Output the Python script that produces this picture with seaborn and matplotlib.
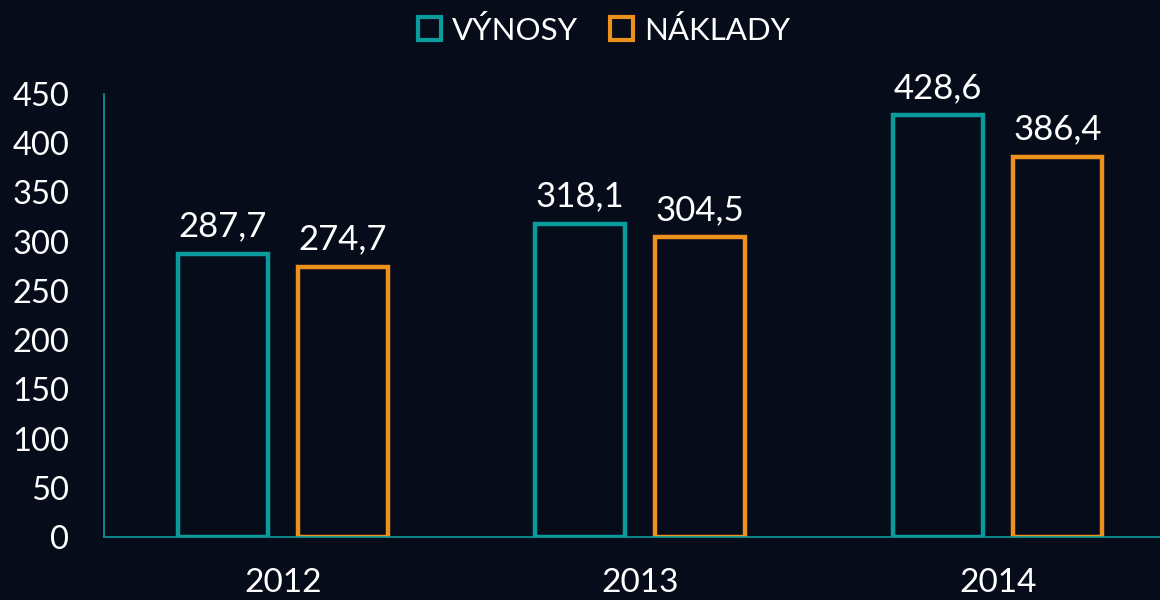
import pandas as pd
import numpy as np
import seaborn as sns
import matplotlib.pyplot as plt
from matplotlib.patches import Patch

# data
years = ["2012", "2013", "2014"]
vynosy = [287.7, 318.1, 428.6]
naklady = [274.7, 304.5, 386.4]
series_names = ["VÝNOSY", "NÁKLADY"]

bg = "#070c1b"
teal = "#0a9c9c"
orange = "#ec911b"

df = pd.DataFrame({
    "rok": years * 2,
    "hodnota": vynosy + naklady,
    "serie": [series_names[0]] * 3 + [series_names[1]] * 3,
})

sns.set_style("dark")
plt.rcParams["font.family"] = ["Lato", "DejaVu Sans"]

fig = plt.figure(figsize=(11.6, 6), dpi=100, facecolor=bg)
ax = fig.add_axes([104 / 1160, 63 / 600, 1056 / 1160, 443 / 600])
ax.set_facecolor(bg)

sns.barplot(data=df, x="rok", y="hodnota", hue="serie",
            palette=[teal, orange], fill=False, width=0.67, gap=0.25,
            linewidth=3.2, ax=ax, legend=False)

for cont in ax.containers:
    labs = [f"{b.get_height():.1f}".replace(".", ",") for b in cont]
    ax.bar_label(cont, labels=labs, padding=8, color="white", fontsize=25)

ax.set_ylim(0, 450)
ax.set_xlim(-0.5, 2.454)
ax.set_yticks(range(0, 451, 50))
ax.grid(False)
ax.set_xlabel("")
ax.set_ylabel("")
ax.tick_params(axis="y", length=0, pad=25, labelsize=23.5, colors="white")
ax.tick_params(axis="x", length=0, pad=22, labelsize=24, colors="white")
for s in ["top", "right"]:
    ax.spines[s].set_visible(False)
for s in ["left", "bottom"]:
    ax.spines[s].set_visible(True)
    ax.spines[s].set_color(teal)
    ax.spines[s].set_linewidth(1.2)

handles = [Patch(facecolor="none", edgecolor=c, linewidth=3, label=n)
           for c, n in zip([teal, orange], series_names)]
leg = fig.legend(handles=handles, loc="center", bbox_to_anchor=(604 / 1160, 1 - 30 / 600),
                 ncol=2, frameon=False, fontsize=22.5, handlelength=0.75, handleheight=0.75,
                 handletextpad=0.35, columnspacing=1.0, labelcolor="white")

fig.savefig("out.png", dpi=100, facecolor=bg)
